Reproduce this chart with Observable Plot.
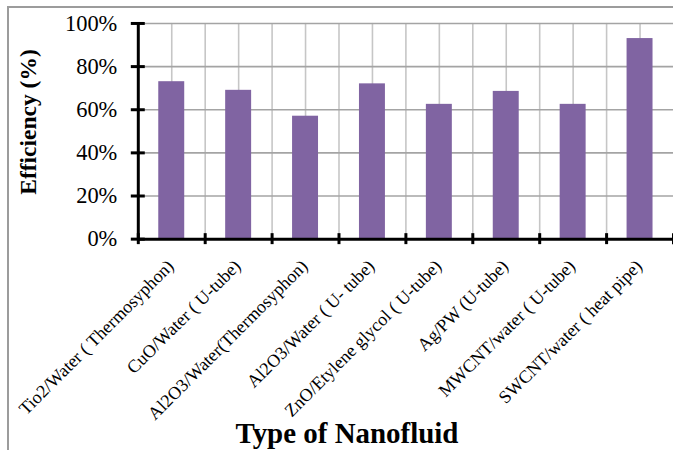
<!DOCTYPE html>
<html>
<head>
<meta charset="utf-8">
<script src="https://cdn.jsdelivr.net/npm/d3@7"></script>
<script src="https://cdn.jsdelivr.net/npm/@observablehq/plot@0.6"></script>
<style>
  html, body { margin: 0; padding: 0; background: #fff; overflow: hidden; }
  #wrap { position: relative; width: 673px; height: 450px; overflow: hidden;
          font-family: 'Liberation Serif', 'Times New Roman', serif; }
  #border { position: absolute; left: 7px; top: 6px; width: 720px; height: 500px;
            border: 2px solid #9c9c9c; box-sizing: border-box; }
  #chart { position: absolute; left: 0; top: 0; }
  #ytitle { position: absolute; left: 29px; top: 122px; white-space: nowrap;
            font-size: 23.5px; font-weight: bold; line-height: 1; color: #000;
            transform: translate(-50%, -50%) rotate(-90deg); }
</style>
</head>
<body>
<div id="wrap">
  <div id="border"></div>
  <div id="chart"></div>
  <div id="ytitle"></div>
</div>
<script>
// Nanofluid types and their measured efficiency
const categories = [
  "Tio2/Water ( Thermosyphon)",
  "CuO/Water ( U-tube)",
  "Al2O3/Water(Thermosyphon)",
  "Al2O3/Water ( U- tube)",
  "ZnO/Etylene glycol ( U-tube)",
  "Ag/PW (U-tube)",
  "MWCNT/water ( U-tube)",
  "SWCNT/water ( heat pipe)"
];
const efficiency = [0.73, 0.69, 0.57, 0.72, 0.625, 0.685, 0.625, 0.93];
const yTicks = [0, 0.2, 0.4, 0.6, 0.8, 1.0];
const yTitle = "Efficiency (%)";
const xTitle = "Type of Nanofluid";

document.getElementById("ytitle").textContent = yTitle;

const rows = categories.map((name, i) => ({name, i, value: efficiency[i]}));
const centers = rows.map(d => d.i + 0.5);
const boundaries = d3.range(0, categories.length + 1);
const inner = boundaries.slice(1, -1);

const chart = Plot.plot({
  width: 674,
  height: 450,
  marginLeft: 138,
  marginRight: 0,
  marginTop: 23,
  marginBottom: 211,
  style: {fontFamily: "'Liberation Serif', 'Times New Roman', serif", background: "transparent", color: "#000"},
  x: {domain: [0, categories.length], axis: null},
  y: {domain: [0, 1], axis: null},
  marks: [
    // gridlines
    Plot.ruleX(inner.concat(centers), {y1: 0, y2: 1, stroke: "#c6c6c6", strokeWidth: 1.6}),
    Plot.ruleY(yTicks.slice(1), {stroke: "#a4a4a4", strokeWidth: 1.6}),
    // bars
    Plot.rectY(rows, {x1: "i", x2: d => d.i + 1, y: "value", fill: "#8064A2", insetLeft: 20.5, insetRight: 20.5}),
    // axes
    Plot.ruleY([0], {stroke: "#000", strokeWidth: 3}),
    Plot.ruleX([0], {y1: 0, y2: 1, stroke: "#000", strokeWidth: 3}),
    Plot.ruleY(yTicks, {x1: 0, x2: 0, insetLeft: -7, insetRight: -7, stroke: "#000", strokeWidth: 3}),
    Plot.ruleX(boundaries, {y1: 0, y2: 0, insetTop: -5.5, insetBottom: -5.5, stroke: "#000", strokeWidth: 3}),
    Plot.axisY(yTicks, {tickSize: 0, tickPadding: 21, fontSize: 22.5, tickFormat: d3.format(".0%"), label: null}),
    // category labels
    Plot.text(rows, {x: d => d.i + 0.5, y: 0, text: "name", rotate: -45, textAnchor: "end",
                     dx: -1, dy: 24, fontSize: 18, fill: "#000"}),
    // x title
    Plot.text([xTitle], {frameAnchor: "bottom", dx: -59, dy: 204,
                         fontSize: 29, fontWeight: "bold", fill: "#000"})
  ]
});
document.getElementById("chart").appendChild(chart);
</script>
</body>
</html>
